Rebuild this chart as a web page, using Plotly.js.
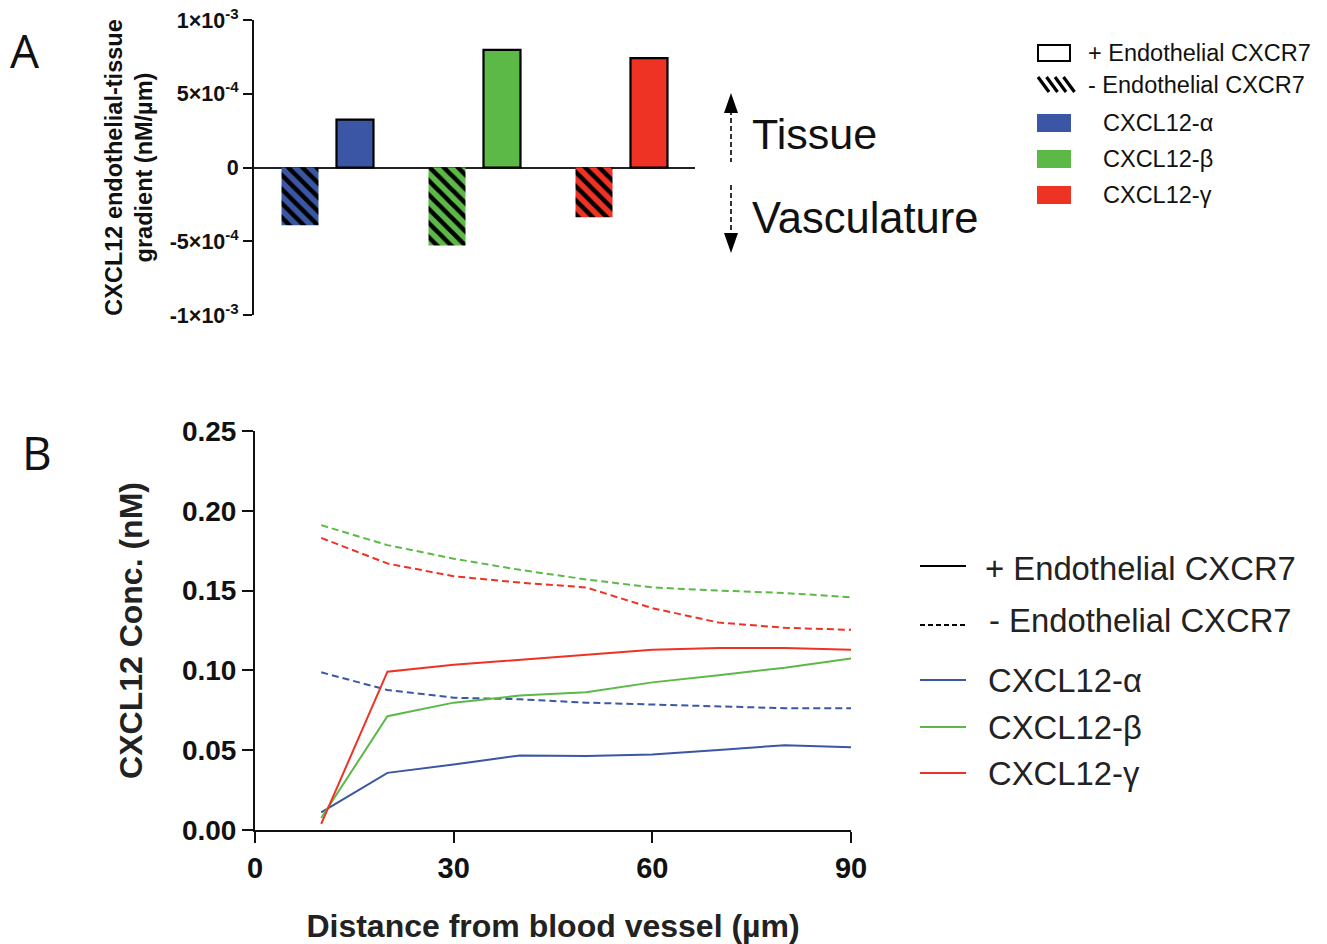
<!DOCTYPE html>
<html>
<head>
<meta charset="utf-8">
<script src="https://cdn.plot.ly/plotly-3.0.1.min.js"></script>
<style>html,body{margin:0;padding:0;background:#fff;}#chart{width:1327px;height:944px;}</style>
</head>
<body>
<div id="chart"></div>
<script>
// ---------- Panel A data ----------
const isoforms = ["CXCL12-α", "CXCL12-β", "CXCL12-γ"];
const gradientPlusCXCR7 = [3.25e-4, 7.98e-4, 7.41e-4];
const gradientMinusCXCR7 = [-3.92e-4, -5.28e-4, -3.37e-4];
const gradientTickVals = [1e-3, 5e-4, 0, -5e-4, -1e-3];
const gradientTickText = ["1×10<sup>-3</sup>", "5×10<sup>-4</sup>", "0", "-5×10<sup>-4</sup>", "-1×10<sup>-3</sup>"];

// ---------- Panel B data ----------
const distance = [10, 20, 30, 40, 50, 60, 70, 80, 90];
const alphaPlus  = [0.011, 0.0358, 0.041, 0.0467, 0.0463, 0.0473, 0.0502, 0.0531, 0.0519];
const alphaMinus = [0.0988, 0.0877, 0.0829, 0.0819, 0.0798, 0.0785, 0.0773, 0.0763, 0.0763];
const betaPlus   = [0.0075, 0.0713, 0.0798, 0.0842, 0.0863, 0.0925, 0.097, 0.1017, 0.1075];
const betaMinus  = [0.191, 0.1785, 0.170, 0.163, 0.157, 0.152, 0.150, 0.1485, 0.1458];
const gammaPlus  = [0.0038, 0.0992, 0.1035, 0.1067, 0.110, 0.1129, 0.114, 0.114, 0.1129];
const gammaMinus = [0.183, 0.167, 0.159, 0.155, 0.152, 0.139, 0.130, 0.1267, 0.1254];
const distTicks = [0, 30, 60, 90];
const concTicks = [0, 0.05, 0.10, 0.15, 0.20, 0.25];

// ---------- styling ----------
const BLUE = "#3a56a5", GREEN = "#5cb947", RED = "#ee3224";
const barColors = [BLUE, GREEN, RED];
const FONT = "Liberation Sans, Arial, sans-serif";
const W = 1327, H = 944;
const px = x => x / W;
const py = y => 1 - y / H;

const traces = [];
// Panel A bars: one trace per isoform & condition, grouped by offsetgroup
isoforms.forEach((iso, i) => {
  traces.push({
    type: "bar", x: [iso], y: [gradientMinusCXCR7[i]], xaxis: "x", yaxis: "y",
    offsetgroup: "minus", name: iso + " - Endothelial CXCR7", showlegend: false,
    marker: { color: barColors[i], line: { width: 0 },
      pattern: { shape: "\\", fgcolor: "#000", bgcolor: barColors[i], size: 10, solidity: 0.45, fillmode: "replace" } },
    hoverinfo: "x+y"
  });
});
isoforms.forEach((iso, i) => {
  traces.push({
    type: "bar", x: [iso], y: [gradientPlusCXCR7[i]], xaxis: "x", yaxis: "y",
    offsetgroup: "plus", name: iso + " + Endothelial CXCR7", showlegend: false,
    marker: { color: barColors[i], line: { width: 2.2, color: "#000" } },
    hoverinfo: "x+y"
  });
});

const lineSeries = [
  { y: alphaPlus, c: BLUE, d: "solid", n: "CXCL12-α +CXCR7" },
  { y: alphaMinus, c: BLUE, d: "7px,4px", n: "CXCL12-α -CXCR7" },
  { y: betaPlus, c: GREEN, d: "solid", n: "CXCL12-β +CXCR7" },
  { y: betaMinus, c: GREEN, d: "7px,4px", n: "CXCL12-β -CXCR7" },
  { y: gammaPlus, c: RED, d: "solid", n: "CXCL12-γ +CXCR7" },
  { y: gammaMinus, c: RED, d: "7px,4px", n: "CXCL12-γ -CXCR7" }
];
lineSeries.forEach(s => traces.push({
  type: "scatter", mode: "lines", x: distance, y: s.y, xaxis: "x2", yaxis: "y2",
  name: s.n, showlegend: false, line: { color: s.c, width: 2, dash: s.d }
}));

const shapes = [];
const annotations = [];

// Panel letters
annotations.push({ xref: "paper", yref: "paper", x: px(25), y: py(50), text: "A", showarrow: false,
  font: { family: "Open Sans, Liberation Sans, sans-serif", size: 46, color: "#111" }, xanchor: "center", yanchor: "middle" });
annotations.push({ xref: "paper", yref: "paper", x: px(37), y: py(452), text: "B", showarrow: false,
  font: { family: "Open Sans, Liberation Sans, sans-serif", size: 46, color: "#111" }, xanchor: "center", yanchor: "middle" });

// Tissue / Vasculature arrow
shapes.push({ type: "line", xref: "paper", yref: "paper", x0: px(731), x1: px(731), y0: py(110), y1: py(162), line: { color: "#000", width: 1.6, dash: "5px,3px" } });
shapes.push({ type: "line", xref: "paper", yref: "paper", x0: px(731), x1: px(731), y0: py(185), y1: py(236), line: { color: "#000", width: 1.6, dash: "5px,3px" } });
shapes.push({ type: "path", xref: "paper", yref: "paper",
  path: `M ${px(731)} ${py(93)} L ${px(724)} ${py(113)} L ${px(738)} ${py(113)} Z`, fillcolor: "#000", line: { width: 0 } });
shapes.push({ type: "path", xref: "paper", yref: "paper",
  path: `M ${px(731)} ${py(253)} L ${px(724)} ${py(233)} L ${px(738)} ${py(233)} Z`, fillcolor: "#000", line: { width: 0 } });
annotations.push({ xref: "paper", yref: "paper", x: px(750), y: py(134), text: "Tissue", showarrow: false,
  font: { family: FONT, size: 43, color: "#111" }, xanchor: "left", yanchor: "middle" });
annotations.push({ xref: "paper", yref: "paper", x: px(750), y: py(218), text: "Vasculature", showarrow: false,
  font: { family: FONT, size: 43.5, color: "#111" }, xanchor: "left", yanchor: "middle" });

// Legend A
shapes.push({ type: "rect", xref: "paper", yref: "paper", x0: px(1038), x1: px(1070), y0: py(61), y1: py(45), line: { color: "#000", width: 2 }, fillcolor: "#fff" });
for (let i = 0; i < 4; i++) {
  shapes.push({ type: "line", xref: "paper", yref: "paper", x0: px(1038 + i * 8.5), x1: px(1038 + i * 8.5 + 11), y0: py(77), y1: py(92), line: { color: "#000", width: 3.2 } });
}
const legAY = [123, 159, 195];
barColors.forEach((c, i) => shapes.push({ type: "rect", xref: "paper", yref: "paper", x0: px(1037), x1: px(1071), y0: py(legAY[i] + 9), y1: py(legAY[i] - 9), fillcolor: c, line: { width: 0 } }));
annotations.push({ xref: "paper", yref: "paper", x: px(1086), y: py(53), text: "+ Endothelial CXCR7", showarrow: false,
  font: { family: FONT, size: 23.5, color: "#111" }, xanchor: "left", yanchor: "middle" });
annotations.push({ xref: "paper", yref: "paper", x: px(1086), y: py(85), text: "- Endothelial CXCR7", showarrow: false,
  font: { family: FONT, size: 23.5, color: "#111" }, xanchor: "left", yanchor: "middle" });
isoforms.forEach((t, i) => annotations.push({ xref: "paper", yref: "paper", x: px(1101), y: py(legAY[i]), text: t, showarrow: false,
  font: { family: FONT, size: 23.5, color: "#111" }, xanchor: "left", yanchor: "middle" }));

// Legend B
shapes.push({ type: "line", xref: "paper", yref: "paper", x0: px(920), x1: px(966), y0: py(566), y1: py(566), line: { color: "#000", width: 2 } });
shapes.push({ type: "line", xref: "paper", yref: "paper", x0: px(920), x1: px(966), y0: py(625), y1: py(625), line: { color: "#000", width: 2, dash: "5px,3px" } });
const legBY = [680, 727, 773];
barColors.forEach((c, i) => shapes.push({ type: "line", xref: "paper", yref: "paper", x0: px(920), x1: px(966), y0: py(legBY[i]), y1: py(legBY[i]), line: { color: c, width: 2 } }));
annotations.push({ xref: "paper", yref: "paper", x: px(983), y: py(568), text: "+ Endothelial CXCR7", showarrow: false,
  font: { family: FONT, size: 32.8, color: "#222" }, xanchor: "left", yanchor: "middle" });
annotations.push({ xref: "paper", yref: "paper", x: px(987), y: py(620), text: "- Endothelial CXCR7", showarrow: false,
  font: { family: FONT, size: 32.8, color: "#222" }, xanchor: "left", yanchor: "middle" });
isoforms.forEach((t, i) => annotations.push({ xref: "paper", yref: "paper", x: px(986), y: py(legBY[i]), text: t, showarrow: false,
  font: { family: FONT, size: 32.8, color: "#222" }, xanchor: "left", yanchor: "middle" }));

const layout = {
  width: W, height: H,
  margin: { l: 0, r: 0, t: 0, b: 0 },
  paper_bgcolor: "#fff", plot_bgcolor: "rgba(0,0,0,0)",
  showlegend: false,
  barmode: "group", bargap: 0.252, bargroupgap: 0.327,
  font: { family: FONT, color: "#111" },
  xaxis: {
    domain: [px(254), px(695)], anchor: "y", range: [-0.5, 2.5],
    type: "category", categoryorder: "array", categoryarray: isoforms,
    visible: false, fixedrange: true
  },
  yaxis: {
    domain: [py(315), py(20)], anchor: "x", range: [-1e-3, 1e-3],
    tickmode: "array", tickvals: gradientTickVals, ticktext: gradientTickText,
    showline: true, linecolor: "#111", linewidth: 2, mirror: false,
    ticks: "outside", ticklen: 9, tickwidth: 2, tickcolor: "#111",
    showgrid: false, zeroline: true, zerolinecolor: "#222", zerolinewidth: 2,
    tickfont: { family: FONT, size: 21.5, weight: "bold", color: "#111" },
    title: { text: "CXCL12 endothelial-tissue<br>gradient (nM/µm)", font: { family: FONT, size: 23.5, weight: "bold", color: "#111" }, standoff: 10 },
    automargin: false
  },
  xaxis2: {
    domain: [px(255), px(851)], anchor: "y2", range: [0, 90],
    tickmode: "array", tickvals: distTicks,
    showline: true, linecolor: "#111", linewidth: 2,
    ticks: "outside", ticklen: 11, tickwidth: 2, tickcolor: "#111",
    showgrid: false, zeroline: false,
    tickfont: { family: FONT, size: 29, weight: "bold", color: "#111" },
    title: { text: "Distance from blood vessel (µm)", font: { family: FONT, size: 32, weight: "bold", color: "#222" }, standoff: 36 },
    automargin: false
  },
  yaxis2: {
    domain: [py(830), py(431)], anchor: "x2", range: [0, 0.25],
    tickmode: "array", tickvals: concTicks, tickformat: ".2f",
    showline: true, linecolor: "#111", linewidth: 2,
    ticks: "outside", ticklen: 11, tickwidth: 2, tickcolor: "#111",
    showgrid: false, zeroline: false,
    tickfont: { family: FONT, size: 28, weight: "bold", color: "#111" },
    title: { text: "CXCL12 Conc. (nM)", font: { family: FONT, size: 32, weight: "bold", color: "#222" }, standoff: 30 },
    automargin: false
  },
  shapes: shapes,
  annotations: annotations
};

Plotly.newPlot("chart", traces, layout, { staticPlot: true, displayModeBar: false });
</script>
</body>
</html>
